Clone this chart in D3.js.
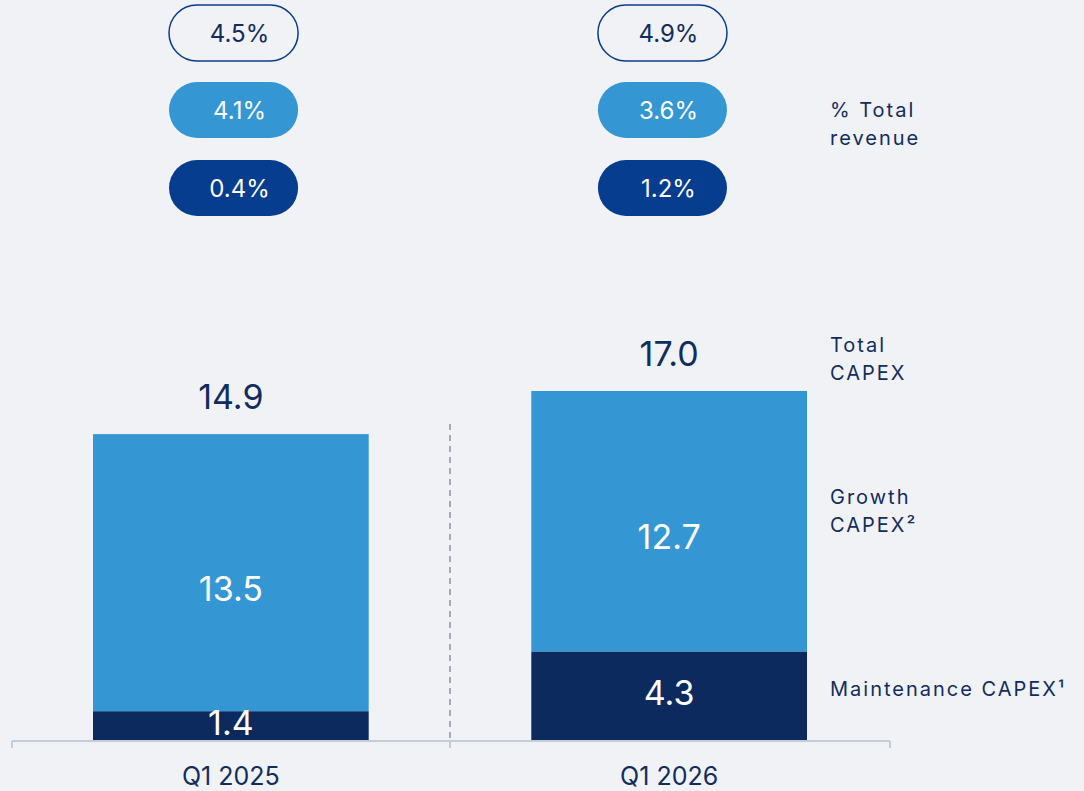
<!DOCTYPE html>
<html>
<head>
<meta charset="utf-8">
<script src="https://cdn.jsdelivr.net/npm/d3@7"></script>
<style>
  body { margin: 0; background: #f1f2f6; }
  svg { display: block; font-family: Inter, "Open Sans", sans-serif; }
</style>
</head>
<body>
<script>
// data
var quarters = ["Q1 2025", "Q1 2026"];
var maintenance = [1.4, 4.3];
var growth = [13.5, 12.7];
var totals = [14.9, 17.0];
var pctTotal = ["4.5%", "4.9%"];
var pctGrowth = ["4.1%", "3.6%"];
var pctMaint = ["0.4%", "1.2%"];
var sideLabels = [
  {lines: ["% Total", "revenue"], y: 117},
  {lines: ["Total", "CAPEX"], y: 352},
  {lines: ["Growth", "CAPEX\u00b2"], y: 504},
  {lines: ["Maintenance CAPEX\u00b9"], y: 696}
];

var W = 1084, H = 791;
var navy = "#0c2a5e", light = "#3596d4", pillDark = "#063d8e", txt = "#112d5e";

var svg = d3.select("body").append("svg")
    .attr("width", W)
    .attr("height", H);

svg.append("rect").attr("width", W).attr("height", H).attr("fill", "#f1f2f6");

var x = d3.scaleBand().domain(quarters).range([93, 807]).paddingInner(0.371).paddingOuter(0);
var y = d3.scaleLinear().domain([0, 17]).range([740, 391]);
var px = d3.scaleBand().domain(quarters).range([169, 727]).paddingInner(0.699);

// build the stacked rows
var rows = quarters.map(function(q, i) {
  return {q: q, maint: maintenance[i], growth: growth[i], total: totals[i]};
});

// growth segment
svg.selectAll(".growth").data(rows).enter().append("rect")
    .attr("x", function(d) { return x(d.q); })
    .attr("width", x.bandwidth())
    .attr("y", function(d) { return y(d.total); })
    .attr("height", function(d) { return y(d.maint) - y(d.total); })
    .attr("fill", light);

// maintenance segment
svg.selectAll(".maint").data(rows).enter().append("rect")
    .attr("x", function(d) { return x(d.q); })
    .attr("width", x.bandwidth())
    .attr("y", function(d) { return y(d.maint); })
    .attr("height", function(d) { return y(0) - y(d.maint); })
    .attr("fill", navy);

var mid = function(d) { return x(d.q) + x.bandwidth() / 2; };

// segment labels
svg.selectAll(".glab").data(rows).enter().append("text")
    .attr("x", mid)
    .attr("y", function(d) { return (y(d.total) + y(d.maint)) / 2 + 28; })
    .attr("text-anchor", "middle")
    .attr("font-size", 34)
    .attr("fill", "#fff")
    .text(function(d) { return d.growth.toFixed(1); });

svg.selectAll(".mlab").data(rows).enter().append("text")
    .attr("x", mid)
    .attr("y", function(d) { return (y(0) + y(d.maint)) / 2 + 9; })
    .attr("text-anchor", "middle")
    .attr("font-size", 34)
    .attr("fill", "#fff")
    .text(function(d) { return d.maint.toFixed(1); });

// totals above
svg.selectAll(".tlab").data(rows).enter().append("text")
    .attr("x", mid)
    .attr("y", function(d) { return y(d.total) - 25; })
    .attr("text-anchor", "middle")
    .attr("font-size", 34)
    .attr("fill", txt)
    .text(function(d) { return d.total.toFixed(1); });

// axis line + ticks
var axisY = 741;
svg.append("line").attr("x1", 12).attr("x2", 890).attr("y1", axisY).attr("y2", axisY)
    .attr("stroke", "#c3cdd9").attr("stroke-width", 2);
[12, 450, 890].forEach(function(t) {
  svg.append("line").attr("x1", t).attr("x2", t).attr("y1", axisY).attr("y2", 748)
      .attr("stroke", "#c3cdd9").attr("stroke-width", 2);
});
// divider
svg.append("line").attr("x1", 450).attr("x2", 450).attr("y1", 424).attr("y2", axisY)
    .attr("stroke", "#8794a8").attr("stroke-width", 1.5).attr("stroke-dasharray", "6,5");

// category labels
svg.selectAll(".cat").data(rows).enter().append("text")
    .attr("x", mid)
    .attr("y", 785)
    .attr("text-anchor", "middle")
    .attr("font-size", 25)
    .attr("fill", txt)
    .text(function(d) { return d.q; });

// pills
var pillRows = [
  {vals: pctTotal, cy: 33, fill: "none", stroke: pillDark, color: txt},
  {vals: pctGrowth, cy: 110, fill: light, stroke: "none", color: "#fff"},
  {vals: pctMaint, cy: 188, fill: pillDark, stroke: "none", color: "#fff"}
];
pillRows.forEach(function(r) {
  var g = svg.append("g");
  var cells = g.selectAll("g").data(quarters).enter().append("g");
  cells.append("rect")
      .attr("x", function(q) { return px(q); })
      .attr("y", r.cy - 28)
      .attr("width", px.bandwidth())
      .attr("height", 56)
      .attr("rx", 28)
      .attr("fill", r.fill)
      .attr("stroke", r.stroke)
      .attr("stroke-width", 1.5);
  cells.append("text")
      .attr("x", function(q) { return px(q) + px.bandwidth() / 2 + 6; })
      .attr("y", r.cy + 9)
      .attr("text-anchor", "middle")
      .attr("font-size", 24)
      .attr("fill", r.color)
      .text(function(q, i) { return r.vals[i]; });
});

// right side legend labels
sideLabels.forEach(function(s) {
  s.lines.forEach(function(l, i) {
    svg.append("text")
        .attr("x", 830)
        .attr("y", s.y + i * 28)
        .attr("font-size", 20)
        .attr("letter-spacing", 2)
        .attr("fill", txt)
        .text(l);
  });
});
</script>
</body>
</html>
